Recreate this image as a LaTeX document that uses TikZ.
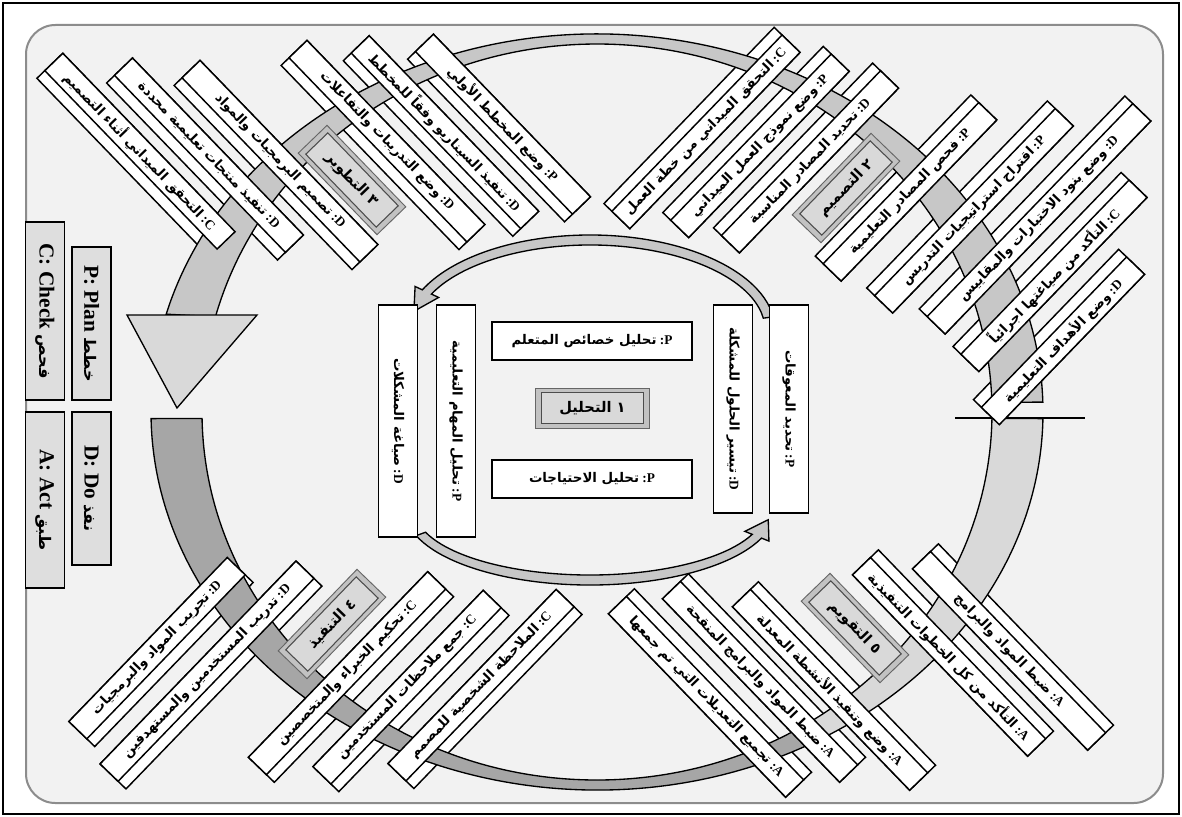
\documentclass[tikz,border=0pt]{standalone}
\usepackage{fontspec}
\setmainfont{Liberation Serif}
\newfontfamily\arf[Script=Arabic]{DejaVu Sans}
\newfontfamily\lat{Liberation Serif}
\TeXXeTstate=1
\usetikzlibrary{calc}
\definecolor{bgc}{HTML}{F2F2F2}
\pgfdeclarelayer{bgl}
\pgfdeclarelayer{backs}
\pgfdeclarelayer{ringl}
\pgfsetlayers{bgl,backs,ringl,main}
\newcommand{\tg}[2]{{\arf\bfseries #2}\ {\lat\bfseries :#1}}
\newcommand{\dgbox}[8]{%
\begin{pgfonlayer}{backs}\node[bb,rotate=#4,minimum width=#5] (#1b) at (#2,#3) {};\end{pgfonlayer}%
\node[fb,rotate=#4,minimum width=#5] (#1) at ({#2+#6},{#3+#7}) {#8};}
\newcommand{\lblbox}[5]{%
\node[lbo,rotate=#4] (#1o) at (#2,#3) {};%
\node[lbi,rotate=#4] (#1) at (#2,#3) {#5};}
\newcommand{\ringseg}[3]{%
\filldraw[seg,fill=#3] ({597+446*cos(#1)},{412+378*sin(#1)}) arc[start angle=#1,end angle=#2,x radius=446,y radius=378] -- ({597+395*cos(#2)},{412+368*sin(#2)}) arc[start angle=#2,end angle=#1,x radius=395,y radius=368] -- cycle;}
\begin{document}
\begin{tikzpicture}[x=0.75pt,y=-0.75pt,
 fb/.style={draw=black,line width=1.1pt,fill=white,minimum height=18.75pt,inner sep=1pt,font=\fontsize{10}{11}\selectfont},
 bb/.style={draw=black,line width=1.1pt,fill=white,minimum height=27pt,inner sep=0pt},
 cbx/.style={draw=black,line width=1.1pt,fill=white,minimum height=29pt,inner sep=1pt,font=\fontsize{10}{11}\selectfont},
 lbi/.style={draw=black!70,line width=0.8pt,fill=black!15,minimum width=76pt,minimum height=23pt,inner sep=0pt,font=\arf\bfseries\fontsize{11}{12}\selectfont},
 lbo/.style={draw=black!60,line width=0.7pt,fill=black!24,minimum width=85pt,minimum height=30pt,inner sep=0pt},
 lgd/.style={draw=black,line width=1.2pt,fill=black!13,minimum height=29pt,rotate=-90,inner sep=1pt,font=\lat\bfseries\fontsize{16}{18}\selectfont},
 lga/.style={font=\arf\bfseries\fontsize{12}{14}\selectfont},
 seg/.style={draw=black,line width=1pt},
]
\useasboundingbox (0,0) rectangle (1182,817);
\begin{pgfonlayer}{bgl}
\fill[white] (0,0) rectangle (1182,817);
\draw[line width=2pt] (3,3) rectangle (1179,814);
\filldraw[fill=bgc,draw=black!45,line width=1.5pt,rounded corners=22pt] (26,25) rectangle (1163,803);
\end{pgfonlayer}
\begin{pgfonlayer}{ringl}
\ringseg{195}{358.5}{black!22}
\ringseg{60}{179}{black!35}
\ringseg{1}{60}{black!15}
\filldraw[seg,fill=black!15] (127,315) -- (257,315) -- (177,408) -- cycle;
% centre cycle arrows
\filldraw[seg,fill=black!22]
 ({590+185*cos(-8)},{330+95*sin(-8)}) arc[start angle=-8,end angle=-155,x radius=185,y radius=95]
 -- ({590+193*cos(-155)},{330+103*sin(-155)})
 -- ({590+180*cos(-168)},{330+90*sin(-168)})
 -- ({590+167*cos(-155)},{330+77*sin(-155)})
 -- ({590+175*cos(-155)},{330+85*sin(-155)}) arc[start angle=-155,end angle=-8,x radius=175,y radius=85] -- cycle;
\filldraw[seg,fill=black!22]
 ({590+185*cos(160)},{510+75*sin(160)}) arc[start angle=160,end angle=22,x radius=185,y radius=75]
 -- ({590+193*cos(22)},{510+83*sin(22)})
 -- ({590+180*cos(8)},{510+70*sin(8)})
 -- ({590+167*cos(22)},{510+57*sin(22)})
 -- ({590+175*cos(22)},{510+65*sin(22)}) arc[start angle=22,end angle=160,x radius=175,y radius=65] -- cycle;
\end{pgfonlayer}
\draw[line width=1.3pt] (955,418) -- (1085,418);
% phase 3 (top left)
\dgbox{tla}{136}{155}{-46}{186pt}{3.95}{-3.82}{\tg{C}{\beginR التحقق الميداني أثناء التصميم\endR}}
\dgbox{tlb}{205}{159}{-46}{184.5pt}{3.95}{-3.82}{\tg{D}{\beginR تنفيذ منتجات تعليمية محددة\endR}}
\dgbox{tlc}{276}{165}{-46}{192pt}{3.95}{-3.82}{\tg{D}{\beginR تصميم البرمجيات والمواد\endR}}
\lblbox{lthree}{352}{180}{-46}{\beginR ٣ التطوير\endR}
\dgbox{tld}{383}{145}{-46}{192pt}{3.95}{-3.82}{\tg{D}{\beginR وضع التدريبات والتفاعلات\endR}}
\dgbox{tle}{441}{136}{-46}{183pt}{3.95}{-3.82}{\tg{D}{\beginR تنفيذ السيناريو وفقاً للمخطط\endR}}
\dgbox{tlf}{499}{128}{-46}{169.5pt}{3.95}{-3.82}{\tg{P}{\beginR وضع المخطط الأولي\endR}}
% phase 2 (top right)
\dgbox{tra}{702}{128}{46}{183.75pt}{3.95}{3.82}{\tg{C}{\beginR التحقق الميداني من خطة العمل\endR}}
\dgbox{trb}{756}{142}{46}{173.25pt}{3.95}{3.82}{\tg{P}{\beginR وضع نموذج العمل الميداني\endR}}
\dgbox{trc}{806}{158}{46}{171.75pt}{3.95}{3.82}{\tg{D}{\beginR تحديد المصادر المناسبة\endR}}
\lblbox{ltwo}{846}{188}{46}{\beginR ٢ التصميم\endR}
\dgbox{trd}{906}{188}{46}{168pt}{3.95}{3.82}{\tg{P}{\beginR فحص المصادر التعليمية\endR}}
\dgbox{tre}{970}{207}{46}{195pt}{3.95}{3.82}{\tg{P}{\beginR اقتراح استراتيجيات التدريس\endR}}
\dgbox{trf}{1035}{215}{46}{222pt}{3.95}{3.82}{\tg{D}{\beginR وضع بنود الاختبارات والمقاييس\endR}}
\dgbox{trg}{1050}{272}{46}{181.5pt}{3.95}{3.82}{\tg{C}{\beginR التأكد من صياغتها اجرائياً\endR}}
\dgbox{trh}{1059}{337}{46}{156.75pt}{3.95}{3.82}{\tg{D}{\beginR وضع الأهداف التعليمية\endR}}
% phase 4 (bottom left)
\dgbox{bla}{161}{652}{46}{171pt}{-3.95}{-3.82}{\tg{D}{\beginR تجريب المواد والبرمجيات\endR}}
\dgbox{blb}{211}{675}{46}{211.5pt}{-3.95}{-3.82}{\tg{D}{\beginR تدريب المستخدمين والمستهدفين\endR}}
\lblbox{lfour}{332}{624}{46}{\beginR ٤ التنفيذ\endR}
\dgbox{blc}{351}{677}{46}{193.5pt}{-3.95}{-3.82}{\tg{C}{\beginR تحكيم الخبراء والمتخصصين\endR}}
\dgbox{bld}{411}{691}{46}{183.75pt}{-3.95}{-3.82}{\tg{C}{\beginR جمع ملاحظات المستخدمين\endR}}
\dgbox{ble}{485}{689}{46}{181.5pt}{-3.95}{-3.82}{\tg{C}{\beginR الملاحظة الشخصية للمصمم\endR}}
% phase 5 (bottom right)
\dgbox{bra}{710}{693}{-46}{191.25pt}{-3.95}{3.82}{\tg{A}{\beginR تجميع التعديلات التي تم جمعها\endR}}
\dgbox{brb}{764}{678}{-46}{191.25pt}{-3.95}{3.82}{\tg{A}{\beginR ضبط المواد والبرامج المنقحة\endR}}
\dgbox{brc}{834}{686}{-46}{191.25pt}{-3.95}{3.82}{\tg{A}{\beginR وضع وتنفيذ الأنشطة المعدلة\endR}}
\lblbox{lfive}{855}{628}{-46}{\beginR ٥ التقويم\endR}
\dgbox{brd}{953}{653}{-46}{189pt}{-3.95}{3.82}{\tg{A}{\beginR التأكد من كل الخطوات التنفيذية\endR}}
\dgbox{bre}{1013}{647}{-46}{189pt}{-3.95}{3.82}{\tg{A}{\beginR ضبط المواد والبرامج\endR}}
% phase 1 (centre)
\node[cbx,rotate=-90,minimum width=174pt] (ca) at (398,421) {\tg{D}{\beginR صياغة المشكلات\endR}};
\node[cbx,rotate=-90,minimum width=174pt] (cbb) at (456,421) {\tg{P}{\beginR تحليل المهام التعليمية\endR}};
\node[cbx,rotate=-90,minimum width=156pt] (cc) at (733,409) {\tg{D}{\beginR تيسير الحلول للمشكلة\endR}};
\node[cbx,rotate=-90,minimum width=156pt] (cd) at (789,409) {\tg{P}{\beginR تحديد المعوقات\endR}};
\node[cbx,minimum width=150pt,minimum height=28.5pt] (ch1) at (592,341) {\tg{P}{\beginR تحليل خصائص المتعلم\endR}};
\lblbox{lone}{592.5}{408}{0}{\beginR ١ التحليل\endR}
\node[cbx,minimum width=150pt,minimum height=28.5pt] (ch2) at (592,479) {\tg{P}{\beginR تحليل الاحتياجات\endR}};
% legend
\node[lgd,minimum width=133.5pt] (lgc) at (45,311) {C: Check {\arf\fontsize{12}{14}\selectfont فحص}};
\node[lgd,minimum width=114.75pt] (lgp) at (91.5,323.5) {P: Plan {\arf\fontsize{12}{14}\selectfont خطط}};
\node[lgd,minimum width=132pt] (lga) at (45,500) {A: Act {\arf\fontsize{12}{14}\selectfont طبق}};
\node[lgd,minimum width=114.75pt] (lgdo) at (91.5,488.5) {D: Do {\arf\fontsize{12}{14}\selectfont نفذ}};
\end{tikzpicture}
\end{document}
